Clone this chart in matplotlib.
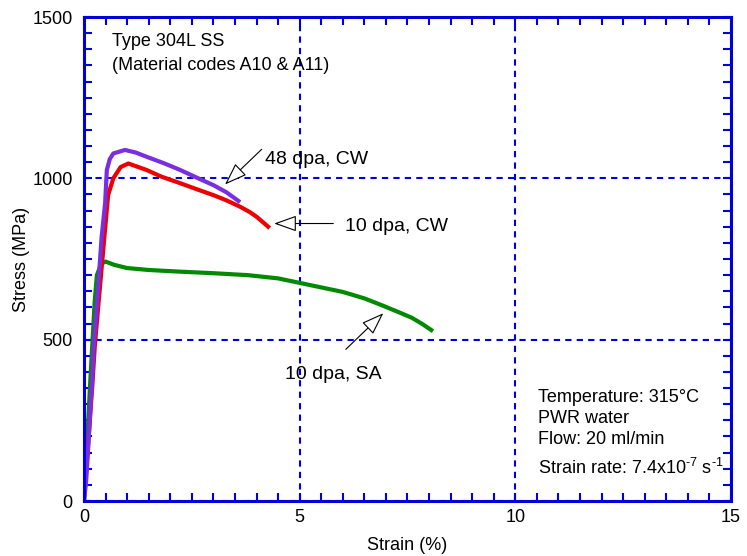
import matplotlib
matplotlib.use('Agg')
from matplotlib import pyplot as plt
from matplotlib.ticker import MultipleLocator

plt.rcParams['font.family'] = ['Liberation Sans', 'DejaVu Sans']
plt.rcParams['mathtext.fontset'] = 'custom'
plt.rcParams['mathtext.rm'] = 'Liberation Sans'
plt.rcParams['mathtext.it'] = 'Liberation Sans'
plt.rcParams['mathtext.default'] = 'rm'

# 10 dpa, SA (green)
sa_strain = [0, 0.05, 0.1, 0.15, 0.2, 0.25, 0.3, 0.4, 0.5, 0.7, 1.0, 1.5, 2.2, 3.0,
             3.8, 4.5, 5.0, 5.5, 6.0, 6.5, 6.9, 7.3, 7.6, 7.85, 8.05]
sa_stress = [0, 120, 250, 380, 500, 620, 700, 735, 742, 732, 722, 716, 711, 706,
             700, 690, 676, 662, 648, 628, 607, 585, 568, 548, 530]

# 10 dpa, CW (red)
cw10_strain = [0, 0.1, 0.2, 0.25, 0.33, 0.44, 0.56, 0.68, 0.85, 1.03, 1.45, 1.8,
               2.23, 2.6, 3.0, 3.3, 3.62, 3.85, 4.0, 4.15, 4.27]
cw10_stress = [0, 180, 370, 478, 602, 768, 948, 1000, 1035, 1046, 1026, 1005,
               985, 967, 948, 932, 912, 895, 881, 864, 850]

# 48 dpa, CW (purple)
cw48_strain = [0, 0.05, 0.1, 0.15, 0.2, 0.22, 0.33, 0.41, 0.49, 0.53, 0.6, 0.68,
               0.95, 1.2, 1.45, 1.85, 2.23, 2.65, 3.0, 3.3, 3.58]
cw48_stress = [0, 60, 170, 290, 397, 468, 664, 819, 922, 1026, 1060, 1077,
               1088, 1080, 1067, 1047, 1026, 1000, 979, 957, 930]

blue = '#0000dd'

fig = plt.figure(figsize=(7.47, 5.56), dpi=100)
ax = fig.add_axes([0.1124, 0.0989, 0.8662, 0.8705])

ax.plot(sa_strain, sa_stress, color='#008a00', lw=3)
ax.plot(cw10_strain, cw10_stress, color='#ee0000', lw=3)
ax.plot(cw48_strain, cw48_stress, color='#7b2ee0', lw=3)

ax.set_xlim(0, 15)
ax.set_ylim(0, 1500)
ax.xaxis.set_major_locator(MultipleLocator(5))
ax.xaxis.set_minor_locator(MultipleLocator(0.5))
ax.yaxis.set_major_locator(MultipleLocator(500))
ax.yaxis.set_minor_locator(MultipleLocator(50))
ax.grid(True, which='major', color=blue, ls=(0, (3, 2.5)), lw=1.5)

for s in ax.spines.values():
    s.set_color(blue)
    s.set_linewidth(2.2)
ax.tick_params(which='both', direction='in', top=True, right=True,
               color=blue, width=1.5, labelsize=13, length=6)
ax.tick_params(axis='x', pad=6)
ax.tick_params(axis='y', pad=8)

ax.set_xlabel('Strain (%)', fontsize=13, labelpad=8)
ax.set_ylabel('Stress (MPa)', fontsize=13, labelpad=2)

arrow = dict(arrowstyle='-|>,head_length=1.4,head_width=0.5',
             fc='white', ec='black', lw=0.8, shrinkA=0, shrinkB=0)

ax.annotate('', xy=(3.27, 981), xytext=(4.12, 1090), arrowprops=arrow)
ax.text(4.2, 1057, '48 dpa, CW', fontsize=14, va='center')

ax.annotate('', xy=(4.41, 860), xytext=(5.78, 860), arrowprops=arrow)
ax.text(6.05, 852, '10 dpa, CW', fontsize=14, va='center')

ax.annotate('', xy=(6.94, 582), xytext=(6.07, 470), arrowprops=arrow)
ax.text(4.66, 393, '10 dpa, SA', fontsize=14, va='center')

ax.text(0.64, 1423, 'Type 304L SS', fontsize=13, va='center')
ax.text(0.64, 1351, '(Material codes A10 & A11)', fontsize=13, va='center')

ax.text(10.53, 320, 'Temperature: 315°C', fontsize=13, va='center')
ax.text(10.53, 256, 'PWR water', fontsize=13, va='center')
ax.text(10.53, 191, 'Flow: 20 ml/min', fontsize=13, va='center')
ax.text(10.53, 101, r'Strain rate: 7.4x10$^{\text{-7}}$ s$^{\text{-1}}$',
        fontsize=13, va='center')

fig.savefig('out.png', dpi=100)
